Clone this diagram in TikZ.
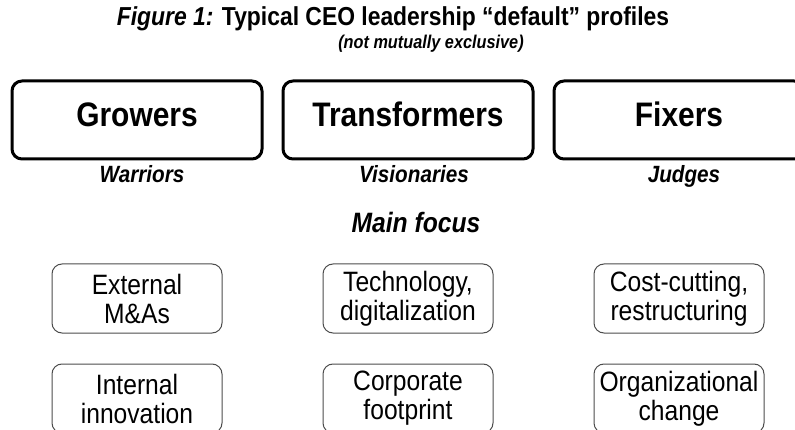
\documentclass[tikz,border=0pt]{standalone}
\usepackage{fontspec}
\setmainfont{Liberation Sans}[FakeStretch=0.88]
\usepackage{tikz}

\tikzset{
  profile/.style={draw, line width=3pt, rounded corners=10pt,
    minimum width=250pt, minimum height=78pt, text height=24pt, text depth=10pt,
    font=\fontsize{34}{34}\selectfont\bfseries},
  nickname/.style={anchor=base, font=\fontsize{23.5}{23.5}\selectfont\bfseries\itshape},
  focus/.style={draw=black!70, line width=1pt, rounded corners=10pt,
    minimum width=170pt, minimum height=69pt, align=center, inner sep=0pt,
    font=\fontsize{28}{29}\selectfont}
}

\begin{document}
\begin{tikzpicture}[x=1pt, y=-1pt]

\useasboundingbox (0,0) rectangle (795,430);

% Title
\node (title) at (393,26) [anchor=base, font=\fontsize{26}{26}\selectfont\bfseries]
  {\textit{Figure 1:} Typical CEO leadership ``default'' profiles};
\node (subtitle) at (431,49) [anchor=base, font=\fontsize{18.5}{18.5}\selectfont\bfseries\itshape]
  {(not mutually exclusive)};

% Profiles
\node (growers) at (137,120) [profile] {Growers};
\node (transformers) at (408,120) [profile] {Transformers};
\node (fixers) at (679,120) [profile] {Fixers};

% Nicknames
\node (warriors) at (142,183) [nickname] {Warriors};
\node (visionaries) at (414,183) [nickname] {Visionaries};
\node (judges) at (684,183) [nickname] {Judges};

\node (mainfocus) at (416,233) [anchor=base, font=\fontsize{28}{28}\selectfont\bfseries\itshape]
  {Main focus};

% Focus areas, first row
\node (external) at (137,298.5) [focus] {External\\M\&As};
\node (technology) at (408,298.5) [focus] {Technology,\\digitalization};
\node (costcutting) at (679,298.5) [focus] {Cost-cutting,\\restructuring};

% Focus areas, second row
\node (internal) at (137,398.5) [focus] {Internal\\innovation};
\node (footprint) at (408,398.5) [focus] {Corporate\\footprint};
\node (orgchange) at (679,398.5) [focus] {Organizational\\change};

\end{tikzpicture}
\end{document}
